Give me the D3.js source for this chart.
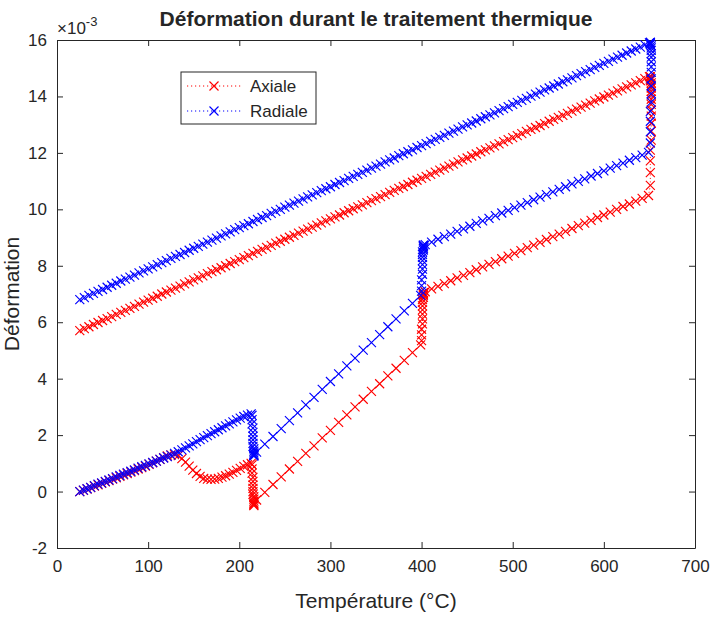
<!DOCTYPE html>
<html><head><meta charset="utf-8">
<script src="https://cdn.jsdelivr.net/npm/d3@7"></script>
<style>
body{margin:0;background:#fff}
text{font-family:"Liberation Sans",Arial,Helvetica,sans-serif;fill:#262626}
</style>
</head><body>
<svg id="chart" width="721" height="620"></svg>
<script>
// ---- Data (strain values in units of 1e-3) ----
const heat1T = [25,29,33,37,41,45,49,53,57,61,65,69,73,77,81,85,89,93,97,101,105,109,113,117,121,125,129,133,137,141,145,149,153,157,161,165,169,173,177,181,185,189,193,197,201,205,209,213];
const heat1Axiale = [0.00,0.04,0.09,0.14,0.19,0.24,0.29,0.34,0.39,0.44,0.49,0.54,0.59,0.64,0.69,0.74,0.80,0.85,0.90,0.96,1.02,1.08,1.14,1.20,1.26,1.30,1.31,1.27,1.17,1.04,0.90,0.76,0.64,0.54,0.47,0.44,0.43,0.44,0.47,0.51,0.56,0.62,0.68,0.75,0.82,0.89,0.95,1.00];
const heat1Radiale = [0.00,0.05,0.10,0.15,0.21,0.26,0.31,0.36,0.41,0.46,0.52,0.57,0.62,0.67,0.72,0.77,0.83,0.88,0.93,0.98,1.03,1.08,1.14,1.19,1.24,1.29,1.35,1.41,1.48,1.55,1.62,1.69,1.77,1.84,1.91,1.98,2.05,2.12,2.19,2.26,2.33,2.40,2.47,2.54,2.60,2.66,2.71,2.75];

const hold1T = [214,214,214,215,215,215,215,215,215,216,216,216,216,216,216,216];
const hold1Axiale = [0.95,0.80,0.65,0.50,0.36,0.23,0.11,0.00,-0.10,-0.19,-0.27,-0.34,-0.40,-0.44,-0.47,-0.50];
const hold1Radiale = [2.70,2.55,2.40,2.25,2.10,1.96,1.83,1.71,1.60,1.51,1.43,1.37,1.32,1.29,1.27,1.26];

const heat2T = [219,228,237,246,255,264,273,282,291,300,309,318,327,336,345,354,363,372,381,390,399];
const heat2Axiale = [-0.30,-0.03,0.25,0.52,0.80,1.07,1.35,1.62,1.90,2.17,2.45,2.72,3.00,3.27,3.55,3.82,4.10,4.37,4.65,4.92,5.20];
const heat2Radiale = [1.40,1.68,1.95,2.23,2.51,2.79,3.07,3.34,3.62,3.90,4.17,4.45,4.73,5.01,5.28,5.56,5.84,6.12,6.40,6.67,6.95];

const hold2T = [400,400,400,401,401,401,401,401,401,401,402,402,402,402,402,402];
const hold2Axiale = [5.35,5.55,5.75,5.94,6.12,6.29,6.44,6.58,6.70,6.80,6.88,6.94,6.99,7.02,7.04,7.05];
const hold2Radiale = [7.10,7.30,7.50,7.70,7.88,8.04,8.18,8.30,8.40,8.49,8.56,8.62,8.67,8.70,8.72,8.73];

const heat3T = [404,411,418,425,432,439,446,453,460,467,474,481,488,495,502,509,516,523,530,537,544,551,558,565,572,579,586,593,600,607,614,621,628,635,642,649];
const heat3Axiale = [7.08,7.18,7.27,7.37,7.47,7.57,7.66,7.76,7.86,7.96,8.05,8.15,8.25,8.34,8.44,8.54,8.64,8.73,8.83,8.93,9.03,9.12,9.22,9.32,9.42,9.51,9.61,9.71,9.80,9.90,10.00,10.10,10.19,10.29,10.39,10.49];
const heat3Radiale = [8.75,8.84,8.94,9.03,9.12,9.22,9.31,9.40,9.50,9.59,9.68,9.78,9.87,9.96,10.06,10.15,10.24,10.34,10.43,10.52,10.62,10.71,10.80,10.90,10.99,11.08,11.18,11.27,11.36,11.46,11.55,11.64,11.74,11.83,11.92,12.02];

const hold3T = [651,651,651,651,652,652,652,652,652,652,652,652,652,652,652,652,651,651,651,651];
const hold3Axiale = [10.85,11.30,11.72,12.10,12.45,12.77,13.05,13.30,13.52,13.72,13.90,14.05,14.18,14.30,14.40,14.48,14.55,14.61,14.66,14.70];
const hold3Radiale = [12.35,12.75,13.12,13.47,13.80,14.10,14.37,14.62,14.85,15.05,15.23,15.39,15.52,15.63,15.72,15.79,15.84,15.88,15.90,15.92];

// cooling, listed in ascending temperature
const coolT = [25,30,35,40,45,50,55,60,65,70,75,80,85,90,95,100,105,110,115,120,125,130,135,140,145,150,155,160,165,170,175,180,185,190,195,200,205,210,215,220,225,230,235,240,245,250,255,260,265,270,275,280,285,290,295,300,305,310,315,320,325,330,335,340,345,350,355,360,365,370,375,380,385,390,395,400,405,410,415,420,425,430,435,440,445,450,455,460,465,470,475,480,485,490,495,500,505,510,515,520,525,530,535,540,545,550,555,560,565,570,575,580,585,590,595,600,605,610,615,620,625,630,635,640,645,650];
const coolAxiale = [5.70,5.77,5.84,5.92,5.99,6.06,6.13,6.20,6.28,6.35,6.42,6.49,6.56,6.64,6.71,6.78,6.85,6.92,7.00,7.07,7.14,7.21,7.28,7.36,7.43,7.50,7.57,7.64,7.72,7.79,7.86,7.93,8.00,8.08,8.15,8.22,8.29,8.36,8.44,8.51,8.58,8.65,8.72,8.80,8.87,8.94,9.01,9.08,9.16,9.23,9.30,9.37,9.44,9.52,9.59,9.66,9.73,9.80,9.88,9.95,10.02,10.09,10.16,10.24,10.31,10.38,10.45,10.52,10.60,10.67,10.74,10.81,10.88,10.96,11.03,11.10,11.17,11.24,11.32,11.39,11.46,11.53,11.60,11.68,11.75,11.82,11.89,11.96,12.04,12.11,12.18,12.25,12.32,12.40,12.47,12.54,12.61,12.68,12.76,12.83,12.90,12.97,13.04,13.12,13.19,13.26,13.33,13.40,13.48,13.55,13.62,13.69,13.76,13.84,13.91,13.98,14.05,14.12,14.20,14.27,14.34,14.41,14.48,14.56,14.63,14.70];
const coolRadiale = [6.80,6.87,6.95,7.02,7.09,7.16,7.24,7.31,7.38,7.46,7.53,7.60,7.67,7.75,7.82,7.89,7.96,8.04,8.11,8.18,8.26,8.33,8.40,8.47,8.55,8.62,8.69,8.77,8.84,8.91,8.98,9.06,9.13,9.20,9.28,9.35,9.42,9.49,9.57,9.64,9.71,9.78,9.86,9.93,10.00,10.08,10.15,10.22,10.29,10.37,10.44,10.51,10.59,10.66,10.73,10.80,10.88,10.95,11.02,11.10,11.17,11.24,11.31,11.39,11.46,11.53,11.60,11.68,11.75,11.82,11.90,11.97,12.04,12.11,12.19,12.26,12.33,12.41,12.48,12.55,12.62,12.70,12.77,12.84,12.92,12.99,13.06,13.13,13.21,13.28,13.35,13.42,13.50,13.57,13.64,13.72,13.79,13.86,13.93,14.01,14.08,14.15,14.23,14.30,14.37,14.44,14.52,14.59,14.66,14.74,14.81,14.88,14.95,15.03,15.10,15.17,15.24,15.32,15.39,15.46,15.54,15.61,15.68,15.75,15.83,15.90];

const xTicks = [0,100,200,300,400,500,600,700];
const yTicks = [-2,0,2,4,6,8,10,12,14,16];
const seriesNames = ["Axiale","Radiale"];
const seriesColors = ["#ff0000","#0000ff"];

// ---- Build series ----
function zip(T, V){ const n=Math.min(T.length,V.length); const out=[]; for(let i=0;i<n;i++) out.push({t:T[i],v:V[i]}); return out; }
function buildSeries(parts){ return parts.reduce((a,p)=>a.concat(p),[]); }
const axiale = buildSeries([zip(heat1T,heat1Axiale),zip(hold1T,hold1Axiale),zip(heat2T,heat2Axiale),zip(hold2T,hold2Axiale),zip(heat3T,heat3Axiale),zip(hold3T,hold3Axiale),zip(coolT,coolAxiale).reverse()]);
const radiale = buildSeries([zip(heat1T,heat1Radiale),zip(hold1T,hold1Radiale),zip(heat2T,heat2Radiale),zip(hold2T,hold2Radiale),zip(heat3T,heat3Radiale),zip(hold3T,hold3Radiale),zip(coolT,coolRadiale).reverse()]);
const allSeries = [axiale, radiale];

// ---- Layout ----
const svg = d3.select("#chart");
const L=57, R=695, T=40, B=548;
const x = d3.scaleLinear().domain([0,700]).range([L,R]);
const y = d3.scaleLinear().domain([-2,16]).range([B,T]);
const axisColor = "#262626";
const plainFmt = d => String(d);

svg.append("rect").attr("width",721).attr("height",620).attr("fill","#fff");

// Axes box with inward ticks
const gB = svg.append("g").attr("transform",`translate(0,${B})`)
  .call(d3.axisBottom(x).tickValues(xTicks).tickFormat(plainFmt).tickSizeInner(-6).tickSizeOuter(0).tickPadding(12));
const gL = svg.append("g").attr("transform",`translate(${L},0)`)
  .call(d3.axisLeft(y).tickValues(yTicks).tickFormat(plainFmt).tickSizeInner(-6).tickSizeOuter(0).tickPadding(10));
const gT = svg.append("g").attr("transform",`translate(0,${T})`)
  .call(d3.axisTop(x).tickValues(xTicks).tickSizeInner(-6).tickSizeOuter(0).tickFormat(""));
const gR = svg.append("g").attr("transform",`translate(${R},0)`)
  .call(d3.axisRight(y).tickValues(yTicks).tickSizeInner(-6).tickSizeOuter(0).tickFormat(""));
[gB,gL,gT,gR].forEach(g=>{
  g.select(".domain").attr("stroke",axisColor).attr("stroke-width",1);
  g.selectAll(".tick line").attr("stroke",axisColor).attr("stroke-width",1);
  g.selectAll(".tick text").attr("fill",axisColor).style("font-size","17px").style("font-family",'"Liberation Sans",Arial,sans-serif');
});

// Series
const line = d3.line().x(d=>x(d.t)).y(d=>y(d.v));
const crossPath = "M-4.5,-4.5L4.5,4.5M-4.5,4.5L4.5,-4.5";
allSeries.forEach((data,i)=>{
  const g = svg.append("g");
  g.append("path").datum(data).attr("d",line).attr("fill","none")
    .attr("stroke",seriesColors[i]).attr("stroke-width",1).attr("stroke-dasharray","1,2.5");
  g.selectAll("path.m").data(data).join("path").attr("class","m")
    .attr("transform",d=>`translate(${x(d.t)},${y(d.v)})`)
    .attr("d",crossPath).attr("fill","none").attr("stroke",seriesColors[i]).attr("stroke-width",1.15);
});

// Exponent label
const ex = svg.append("text").attr("x",L).attr("y",34).style("font-size","17px").attr("fill",axisColor);
ex.append("tspan").text("×10");
ex.append("tspan").attr("dy",-8).style("font-size","13px").text("-3");

// Title
svg.append("text").attr("x",(L+R)/2).attr("y",26).attr("text-anchor","middle")
  .style("font-size","21px").style("font-weight","bold").attr("fill","#000")
  .text("Déformation durant le traitement thermique");

// Axis labels
svg.append("text").attr("x",(L+R)/2).attr("y",608).attr("text-anchor","middle")
  .style("font-size","21px").text("Température (°C)");
svg.append("text").attr("transform",`translate(19,${(T+B)/2}) rotate(-90)`).attr("text-anchor","middle")
  .style("font-size","21px").text("Déformation");

// Legend
const lg = svg.append("g");
lg.append("rect").attr("x",181).attr("y",72).attr("width",135).attr("height",52)
  .attr("fill","#fff").attr("stroke",axisColor).attr("stroke-width",1);
seriesNames.forEach((name,i)=>{
  const yy = 86 + i*25;
  lg.append("line").attr("x1",187).attr("x2",241).attr("y1",yy).attr("y2",yy)
    .attr("stroke",seriesColors[i]).attr("stroke-width",1).attr("stroke-dasharray","1.2,2.8");
  lg.append("path").attr("transform",`translate(214,${yy})`).attr("d",crossPath)
    .attr("fill","none").attr("stroke",seriesColors[i]).attr("stroke-width",1.15);
  lg.append("text").attr("x",250).attr("y",yy).attr("dy","0.35em").style("font-size","17px").text(name);
});
</script>
</body></html>
